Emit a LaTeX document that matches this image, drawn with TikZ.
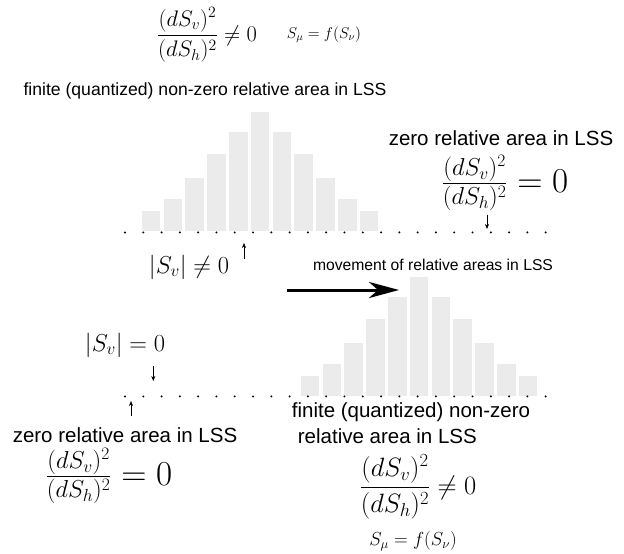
\RequirePackage{fix-cm}
\documentclass[tikz,border=0pt]{standalone}
\usepackage{amsmath,amssymb}
\usepackage{fontspec}
\setmainfont{Liberation Sans}
\usetikzlibrary{arrows.meta}

\begin{document}
\begin{tikzpicture}[x=1pt, y=-1pt,
  lbl/.style={inner sep=0pt, font=\fontsize{20.5}{26}\selectfont},
  captxt/.style={inner sep=0pt, font=\fontsize{17.6}{21}\selectfont},
  note/.style={inner sep=0pt, font=\fontsize{15.7}{19}\selectfont},
  eqtop/.style={inner sep=0pt, font=\fontsize{22.5}{27}\selectfont},
  eqbot/.style={inner sep=0pt, font=\fontsize{26.5}{32}\selectfont},
  eqabs/.style={inner sep=0pt, font=\fontsize{24.5}{29}\selectfont},
  eqfrac/.style={inner sep=0pt, font=\fontsize{35}{42}\selectfont},
  musmall/.style={inner sep=0pt, font=\fontsize{15.6}{19}\selectfont},
  mularge/.style={inner sep=0pt, font=\fontsize{18.9}{23}\selectfont},
  bar/.style={fill=black!8},
  ptr/.style={-{Stealth[length=5pt,width=4pt]}, line width=0.6pt},
  move/.style={-{Stealth[length=30pt,width=16pt,inset=9pt]}, line width=3pt},
]
\useasboundingbox (0,0) rectangle (624,554);

\foreach \h [count=\i from 0] in {19.5,32,52.5,77,98.5,118.5,98.5,77,52.5,32,19.5} {
  \fill[bar] (141.7+21.8*\i,230.7) rectangle ++(18.7,-\h);
  \fill[bar] (300.7+21.8*\i,395.7) rectangle ++(18.7,-\h);
}
\foreach \i in {0,...,23} {
  \fill (125+18.29*\i,232.4) circle (1.1pt);
  \fill (125+18.29*\i,396.4) circle (1.1pt);
}

\node[eqtop] (neqtop) at (207,35) {$\dfrac{(dS_v)^2}{(dS_h)^2}\neq 0$};
\node[musmall] (mutop) at (324,35) {$S_\mu = f(S_\nu)$};
\node[captxt] (finitetop) at (205,91) {finite (quantized) non-zero relative area in LSS};

\node[lbl] (zerotop) at (501,138) {zero relative area in LSS};
\node[eqfrac] (eqzerotop) at (505,183) {$\tfrac{(dS_v)^2}{(dS_h)^2} = 0$};

\node[eqabs] (neqmid) at (189,267) {$|S_v| \neq 0$};
\node[note] (movetxt) at (433,265) {movement of relative areas in LSS};
\node[eqabs] (eqmid) at (125,345) {$|S_v| = 0$};

\node[lbl] (zerobot) at (125,435) {zero relative area in LSS};
\node[eqfrac] (eqzerobot) at (109,476) {$\tfrac{(dS_v)^2}{(dS_h)^2} = 0$};

\node[lbl, align=left, anchor=west] (finitebot) at (291.7,423)
  {finite (quantized) non-zero\\\hspace*{6pt}relative area in LSS};
\node[eqbot] (neqbot) at (418,487) {$\dfrac{(dS_v)^2}{(dS_h)^2}\neq 0$};
\node[mularge] (mubot) at (413,541) {$S_\mu = f(S_\nu)$};

\coordinate (upmidA) at (244,259);
\coordinate (upmidB) at (244,243);
\coordinate (dntopA) at (487,215);
\coordinate (dntopB) at (487,229);
\coordinate (dnlowA) at (153.3,366);
\coordinate (dnlowB) at (153.3,381);
\coordinate (uplowA) at (131,416);
\coordinate (uplowB) at (131,401);
\coordinate (moveA) at (287,290);
\coordinate (moveB) at (399,290);

\draw[ptr] (upmidA) -- (upmidB);
\draw[ptr] (dntopA) -- (dntopB);
\draw[ptr] (dnlowA) -- (dnlowB);
\draw[ptr] (uplowA) -- (uplowB);
\draw[move] (moveA) -- (moveB);
\end{tikzpicture}
\end{document}
